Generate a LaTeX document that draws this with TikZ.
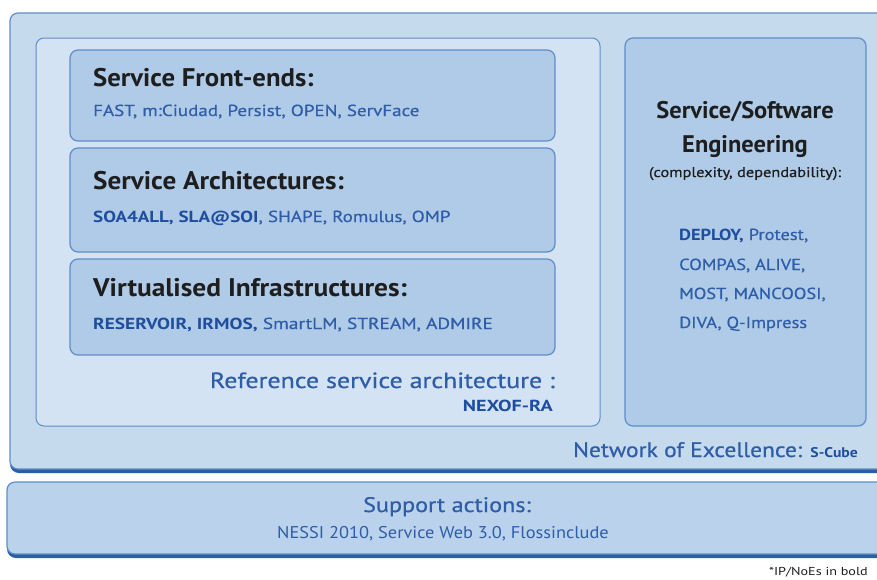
\documentclass[tikz,border=0pt]{standalone}
\usepackage{fontspec}
\usepackage{graphicx}
\setmainfont{PT Sans}
\newfontfamily\semifont{PT Sans}[FakeBold=0.6]
\definecolor{outerfill}{HTML}{C6DAEE}
\definecolor{innerfill}{HTML}{D3E3F3}
\definecolor{boxfill}{HTML}{AFCBE8}
\definecolor{edge}{HTML}{5F8DC8}
\definecolor{dark}{HTML}{2A5CA8}
\definecolor{txtblue}{HTML}{2F5DA8}
\definecolor{boldblue}{HTML}{1F4E9E}
\definecolor{titlecol}{HTML}{1E1E1E}
\tikzset{
  panel/.style={draw=edge, line width=1.2pt, rounded corners=8pt},
  shadowline/.style={fill=dark, rounded corners=9pt},
  title/.style={font=\fontsize{25.5}{28}\selectfont\bfseries, text=titlecol, inner sep=0pt},
  sub/.style={font=\fontsize{16}{19}\selectfont\semifont, text=txtblue, inner sep=0pt},
  big/.style={font=\fontsize{21}{24}\selectfont\semifont, text=txtblue, inner sep=0pt},
}
\newcommand{\bb}[1]{\textcolor{boldblue}{\normalfont\bfseries #1}}
\newcommand{\sx}[2]{\scalebox{#1}[1]{#2}}
\begin{document}
\begin{tikzpicture}[x=1pt,y=-1pt]
\useasboundingbox (0,0) rectangle (877,579);
\clip (0,0) rectangle (877,579);
\fill[white] (0,0) rectangle (877,579);
% outer network box
\fill[shadowline] (10,16) rectangle (895,473);
\draw[panel, fill=outerfill] (10,13) rectangle (895,469);
% support box
\fill[shadowline] (7,485) rectangle (895,558);
\draw[panel, fill=boxfill!70!innerfill] (7,482) rectangle (895,554);
% inner left
\draw[panel, fill=innerfill, line width=1pt] (36,38) rectangle (600,426);
% layer boxes
\draw[panel, fill=boxfill] (70,50) rectangle (555,141);
\draw[panel, fill=boxfill] (70,148) rectangle (555,252);
\draw[panel, fill=boxfill] (70,259) rectangle (555,355);
% right box
\draw[panel, fill=boxfill] (625,38) rectangle (866,426);

\node[title, anchor=base west] (t1) at (93,86) {\sx{1.05}{Service Front-ends:}};
\node[sub, anchor=base west] (s1) at (93,116) {\sx{1.19}{FAST, m:Ciudad, Persist, OPEN, ServFace}};
\node[title, anchor=base west] (t2) at (93,189) {\sx{1.065}{Service Architectures:}};
\node[sub, anchor=base west] (s2) at (93,222) {\sx{1.19}{\bb{SOA4ALL, SLA@SOI}, SHAPE, Romulus, OMP}};
\node[title, anchor=base west] (t3) at (93,296) {\sx{1.075}{Virtualised Infrastructures:}};
\node[sub, anchor=base west] (s3) at (93,329) {\sx{1.21}{\bb{RESERVOIR, IRMOS,} SmartLM, STREAM, ADMIRE}};

\node[font=\fontsize{22}{25}\selectfont\semifont, text=txtblue, inner sep=0pt, anchor=base east] (ref) at (555,388) {\sx{1.18}{Reference service architecture :}};
\node[sub, anchor=base east] (nex) at (553,411) {\sx{1.26}{\bb{NEXOF-RA}}};

\node[font=\fontsize{24}{27}\selectfont\bfseries, text=titlecol, inner sep=0pt, anchor=base] (se1) at (745,118) {\sx{1.02}{Service/Software}};
\node[font=\fontsize{24}{27}\selectfont\bfseries, text=titlecol, inner sep=0pt, anchor=base] (se2) at (745,152) {\sx{1.02}{Engineering}};
\node[inner sep=0pt, font=\fontsize{14}{16}\selectfont\semifont, text=titlecol, anchor=base] (se3) at (745,177) {\sx{1.17}{(complexity, dependability):}};
\node[sub, anchor=base west] (pr1) at (679,240) {\sx{1.15}{\bb{DEPLOY,} Protest,}};
\node[sub, anchor=base west] (pr2) at (679,270) {\sx{1.15}{COMPAS, ALIVE,}};
\node[sub, anchor=base west] (pr3) at (679,299) {\sx{1.15}{MOST, MANCOOSI,}};
\node[sub, anchor=base west] (pr4) at (679,328) {\sx{1.15}{DIVA, Q-Impress}};

\node[big, anchor=base east] (noe) at (858,457) {\sx{1.12}{Network of Excellence: \textcolor{boldblue}{\normalfont\bfseries\fontsize{14}{16}\selectfont S-Cube}}};

\node[big, anchor=base] (sa) at (447,512) {\sx{1.15}{Support actions:}};
\node[font=\fontsize{17}{19}\selectfont, text=txtblue, inner sep=0pt, anchor=base] (sa2) at (443,538) {\sx{1.08}{NESSI 2010, Service Web 3.0, Flossinclude}};
\node[inner sep=0pt, font=\fontsize{11.5}{13}\selectfont, text=titlecol, anchor=base east] (fn) at (868,575) {\sx{1.23}{*IP/NoEs in bold}};
\end{tikzpicture}
\end{document}
